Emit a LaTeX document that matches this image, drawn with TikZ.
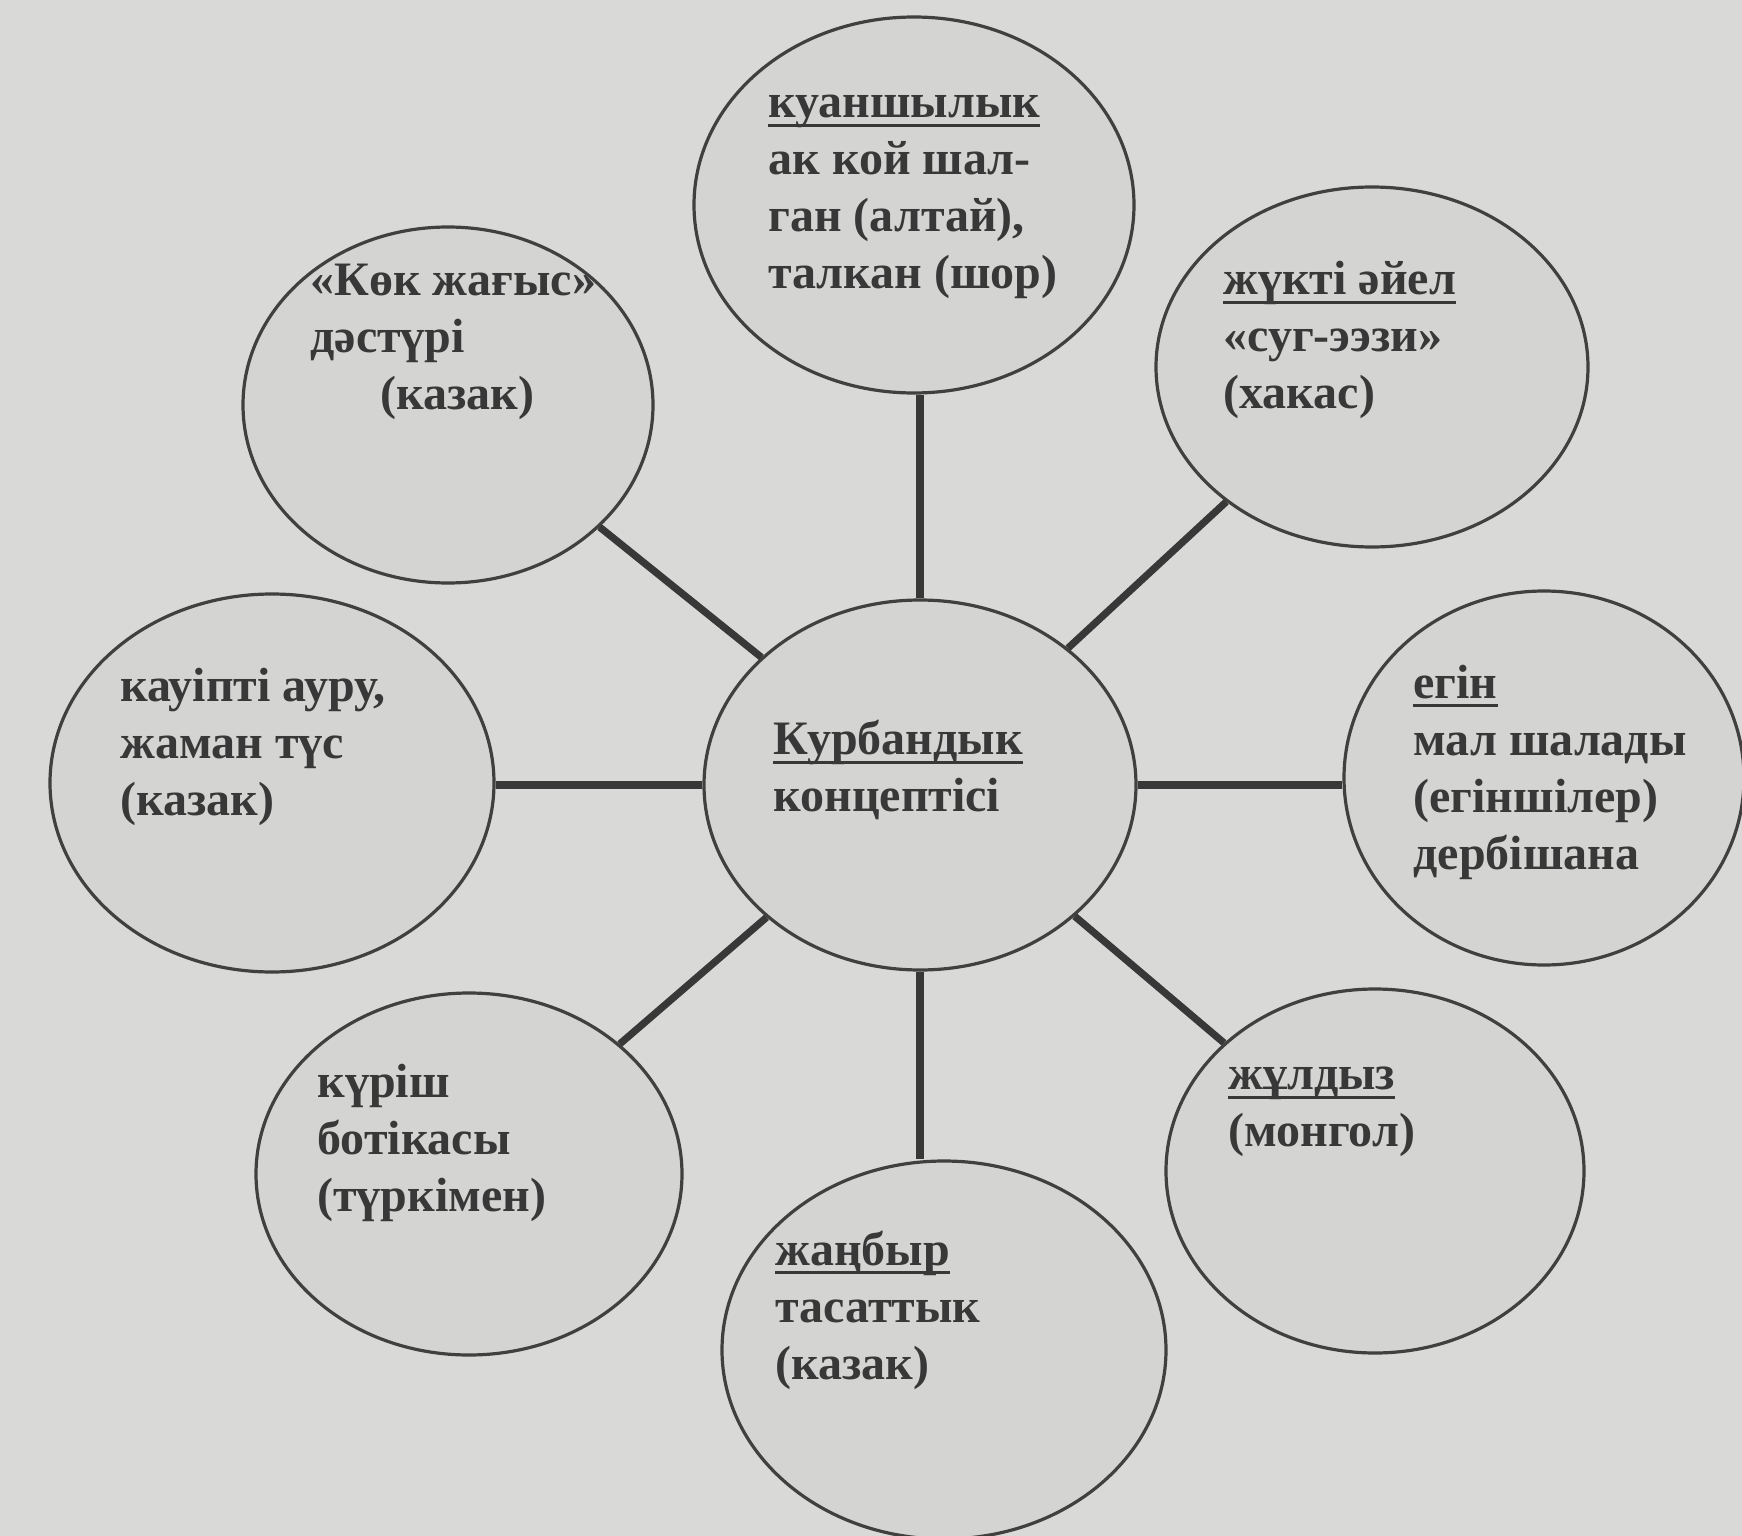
\documentclass[tikz,border=0pt]{standalone}
\usepackage{fontspec}
\setmainfont{Liberation Serif}
\usetikzlibrary{shapes.geometric}
\definecolor{bg}{HTML}{D9D9D7}
\definecolor{circfill}{HTML}{D4D4D2}
\definecolor{ink}{HTML}{383838}
\definecolor{edge}{HTML}{404040}
\newcommand\myul[1]{\setbox0\hbox{#1}\leavevmode\rlap{\rule[-4.5pt]{\wd0}{1.3pt}}\box0}
\tikzset{
  bubble/.style={ellipse, draw=edge, line width=1.6pt, fill=circfill, inner sep=0pt},
  txt/.style={anchor=west, align=left, inner sep=0pt, text=ink,
    font=\fontsize{24}{28.5}\selectfont\bfseries},
  link/.style={draw=ink, line width=3.6pt}
}
\begin{document}
\begin{tikzpicture}[x=0.5pt,y=-0.5pt]
\useasboundingbox (0,0) rectangle (1742,1536);
\fill[bg] (0,0) rectangle (1742,1536);
\clip (0,0) rectangle (1742,1536);

\node[bubble, minimum width=220pt, minimum height=188pt] (top) at (914,205) {};
\node[bubble, minimum width=205pt, minimum height=178pt] (ul)  at (448,405) {};
\node[bubble, minimum width=216pt, minimum height=180pt] (ur)  at (1372,367) {};
\node[bubble, minimum width=222pt, minimum height=189pt] (l)   at (272,783) {};
\node[bubble, minimum width=216pt, minimum height=185pt] (c)   at (920,785) {};
\node[bubble, minimum width=200pt, minimum height=187pt] (r)   at (1544,778) {};
\node[bubble, minimum width=213pt, minimum height=181pt] (ll)  at (469,1174) {};
\node[bubble, minimum width=222pt, minimum height=189pt] (b)   at (944,1350) {};
\node[bubble, minimum width=209pt, minimum height=182pt] (lr)  at (1375,1171) {};

\draw[link] (c.north) -- (c.north |- top.south);
\draw[link] (c.south) -- (c.south |- b.north);
\draw[link] (c.west) -- (c.west -| l.east);
\draw[link] (c.east) -- (c.east -| r.west);
\draw[link] (c) -- (ul);
\draw[link] (c) -- (ur);
\draw[link] (c) -- (ll);
\draw[link] (c) -- (lr);

\node[txt] (ttop) at (768,197) {\myul{куаншылык}\\ак кой шал-\\ган (алтай),\\талкан (шор)};
\node[txt] (tul) at (310,342) {«Көк жағыс»\\дәстүрі\\\hspace*{35pt}(казак)};
\node[txt] (tur) at (1223,340) {\myul{жүкті әйел}\\«суг-ээзи»\\(хакас)};
\node[txt] (tl) at (120,747) {кауіпті ауру,\\жаман түс\\(казак)};
\node[txt] (tc) at (773,770) {\myul{Курбандык}\\концептісі};
\node[txt] (tr) at (1413,772) {\myul{егін}\\мал шалады\\(егіншілер)\\дербішана};
\node[txt] (tll) at (317,1143) {күріш\\ботікасы\\(түркімен)};
\node[txt] (tb) at (775,1310) {\myul{жаңбыр}\\тасаттык\\(казак)};
\node[txt] (tlr) at (1228,1112) {\myul{жұлдыз}\\(монгол)};
\end{tikzpicture}
\end{document}
